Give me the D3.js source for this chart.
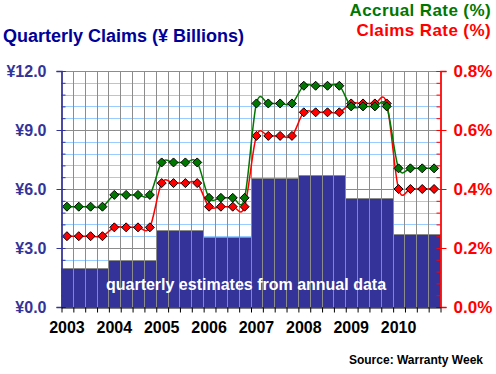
<!DOCTYPE html>
<html>
<head>
<meta charset="utf-8">
<script src="https://cdn.jsdelivr.net/npm/d3@7"></script>
<style>
  body { margin: 0; background: #fff; }
  text { font-family: "Liberation Sans", Arial, sans-serif; font-weight: bold; }
</style>
</head>
<body>
<div class="chart"></div>
<script>
// Quarter labels (only the first quarter of each year gets a year label)
const years = ["2003", "2004", "2005", "2006", "2007", "2008", "2009", "2010"];
const quarters = years.flatMap(y => ["Q1", "Q2", "Q3", "Q4"].map(q => y + q));

// Quarterly claims, ¥ billions (quarterly estimates from annual data)
const claims = [
    1.96, 1.96, 1.96, 1.96,
    2.37, 2.37, 2.37, 2.37,
    3.90, 3.90, 3.90, 3.90,
    3.56, 3.56, 3.56, 3.56,
    6.55, 6.55, 6.55, 6.55,
    6.70, 6.70, 6.70, 6.70,
    5.53, 5.53, 5.53, 5.53,
    3.69, 3.69, 3.69, 3.69
];

// Accrual rate (%)
const accrualRate = [
    0.34, 0.34, 0.34, 0.34,
    0.38, 0.38, 0.38, 0.38,
    0.49, 0.49, 0.49, 0.49,
    0.37, 0.37, 0.37, 0.37,
    0.69, 0.69, 0.69, 0.69,
    0.75, 0.75, 0.75, 0.75,
    0.68, 0.68, 0.68, 0.68,
    0.47, 0.47, 0.47, 0.47
];

// Claims rate (%)
const claimsRate = [
    0.24, 0.24, 0.24, 0.24,
    0.27, 0.27, 0.27, 0.27,
    0.42, 0.42, 0.42, 0.42,
    0.34, 0.34, 0.34, 0.34,
    0.58, 0.58, 0.58, 0.58,
    0.66, 0.66, 0.66, 0.66,
    0.69, 0.69, 0.69, 0.69,
    0.40, 0.40, 0.40, 0.40
];

const leftTicks = [0, 3, 6, 9, 12];
const rightTicks = [0, 0.2, 0.4, 0.6, 0.8];

const width = 496, height = 374;
const plot = { left: 61, right: 440, top: 71, bottom: 307 };

const svg = d3.select(".chart").append("svg")
    .attr("width", width)
    .attr("height", height);

// Scales
const x = d3.scaleBand().domain(quarters).range([plot.left, plot.right]).padding(0);
const xEdge = d3.scaleLinear().domain([0, quarters.length]).range([plot.left, plot.right]);
const yLeft = d3.scaleLinear().domain([0, 12]).range([plot.bottom, plot.top]);
const yRight = d3.scaleLinear().domain([0, 0.8]).range([plot.bottom, plot.top]);

const minorTicks = d3.range(0, 12.001, 0.6).map(v => +v.toFixed(1));

// Horizontal gridlines
svg.append("g")
    .selectAll("line")
    .data(minorTicks.filter(v => v > 0))
    .join("line")
    .attr("x1", plot.left)
    .attr("x2", plot.right)
    .attr("y1", d => Math.round(yLeft(d)) + 0.5)
    .attr("y2", d => Math.round(yLeft(d)) + 0.5)
    .attr("stroke", d => leftTicks.includes(d) ? "#8c8c8c" : "#99ccff")
    .attr("stroke-width", 1);

// Vertical gridlines
svg.append("g")
    .selectAll("line")
    .data(d3.range(1, quarters.length))
    .join("line")
    .attr("x1", d => Math.round(xEdge(d)) + 0.5)
    .attr("x2", d => Math.round(xEdge(d)) + 0.5)
    .attr("y1", plot.top)
    .attr("y2", plot.bottom)
    .attr("stroke", "#8c8c8c");

// Bars
svg.append("g")
    .selectAll("rect")
    .data(claims)
    .join("rect")
    .attr("x", (d, i) => Math.round(x(quarters[i])) + 0.5)
    .attr("y", d => Math.round(yLeft(d)) + 0.5)
    .attr("width", (d, i) => Math.round(x(quarters[i]) + x.bandwidth()) - Math.round(x(quarters[i])))
    .attr("height", d => plot.bottom - Math.round(yLeft(d)))
    .attr("fill", "#333399")
    .attr("stroke", "#8c8c8c");

svg.append("text")
    .attr("x", 246)
    .attr("y", 290)
    .attr("text-anchor", "middle")
    .attr("fill", "#fff")
    .style("font-size", "16px")
    .text("quarterly estimates from annual data");

// Rate lines
const diamond = "M0,-4.5L4.5,0L0,4.5L-4.5,0Z";

function drawRate(values, color) {
    const line = d3.line()
        .x((d, i) => x(quarters[i]) + x.bandwidth() / 2)
        .y(d => yRight(d))
        .curve(d3.curveCardinal.tension(0));

    svg.append("path")
        .datum(values)
        .attr("d", line)
        .attr("fill", "none")
        .attr("stroke", color)
        .attr("stroke-width", 1.5);

    svg.append("g")
        .selectAll("path")
        .data(values)
        .join("path")
        .attr("d", diamond)
        .attr("transform", (d, i) => `translate(${x(quarters[i]) + x.bandwidth() / 2},${yRight(d)})`)
        .attr("fill", color)
        .attr("stroke", "#000")
        .attr("stroke-width", 1);
}

drawRate(claimsRate, "#ff0000");
drawRate(accrualRate, "#007700");

// Left axis
const leftMajor = svg.append("g")
    .attr("transform", `translate(${plot.left + 0.5},0)`)
    .call(d3.axisLeft(yLeft).tickValues(leftTicks).tickSize(5).tickPadding(10)
        .tickFormat(d => "¥" + d.toFixed(1)));
leftMajor.selectAll("line, path").attr("stroke", "#333399");
leftMajor.selectAll("text").attr("fill", "#333399").style("font-size", "16px");
leftMajor.select(".domain").attr("stroke-width", 1.5);

const leftMinor = svg.append("g")
    .attr("transform", `translate(${plot.left + 0.5},0)`)
    .call(d3.axisLeft(yLeft).tickValues(minorTicks).tickSize(-4).tickFormat(""));
leftMinor.selectAll("line, path").attr("stroke", "#333399");

// Right axis
const rightMajor = svg.append("g")
    .attr("transform", `translate(${plot.right + 0.5},0)`)
    .call(d3.axisRight(yRight).tickValues(rightTicks).tickSize(6).tickPadding(7)
        .tickFormat(d => d.toFixed(1) + "%"));
rightMajor.selectAll("line, path").attr("stroke", "#ff0000");
rightMajor.selectAll("text").attr("fill", "#ff0000").style("font-size", "17px");
rightMajor.select(".domain").attr("stroke-width", 1.5);

const rightMinor = svg.append("g")
    .attr("transform", `translate(${plot.right + 0.5},0)`)
    .call(d3.axisRight(yRight).tickValues(d3.range(0, 21).map(i => i * 0.04)).tickSize(-4).tickFormat(""));
rightMinor.selectAll("line, path").attr("stroke", "#ff0000");

// Bottom axis
const bottomTicks = svg.append("g")
    .attr("transform", `translate(0,${plot.bottom + 0.5})`)
    .call(d3.axisBottom(xEdge).tickValues(d3.range(0, quarters.length + 1)).tickSize(5).tickSizeOuter(0).tickFormat(""));
bottomTicks.selectAll("line, path").attr("stroke", "#000");
bottomTicks.selectAll(".tick line").attr("transform", "translate(0.5,0)");

const bottomLabels = svg.append("g")
    .attr("transform", `translate(0,${plot.bottom})`)
    .call(d3.axisBottom(x).tickValues(quarters.filter(q => q.endsWith("Q1"))).tickSize(0).tickPadding(15)
        .tickFormat(q => q.slice(0, 4)));
bottomLabels.select(".domain").remove();
bottomLabels.selectAll("text").attr("fill", "#000").style("font-size", "16px");

// Titles
svg.append("text")
    .attr("x", 3)
    .attr("y", 42)
    .attr("fill", "#000099")
    .style("font-size", "18px")
    .text("Quarterly Claims (¥ Billions)");

svg.append("text")
    .attr("x", 491)
    .attr("y", 16)
    .attr("text-anchor", "end")
    .attr("fill", "#007700")
    .style("font-size", "17px")
    .style("letter-spacing", "0.4px")
    .text("Accrual Rate (%)");

svg.append("text")
    .attr("x", 491)
    .attr("y", 35.5)
    .attr("text-anchor", "end")
    .attr("fill", "#ff0000")
    .style("font-size", "17px")
    .style("letter-spacing", "0.4px")
    .text("Claims Rate (%)");

svg.append("text")
    .attr("x", 483)
    .attr("y", 364)
    .attr("text-anchor", "end")
    .attr("fill", "#000")
    .style("font-size", "12px")
    .text("Source: Warranty Week");
</script>
</body>
</html>
